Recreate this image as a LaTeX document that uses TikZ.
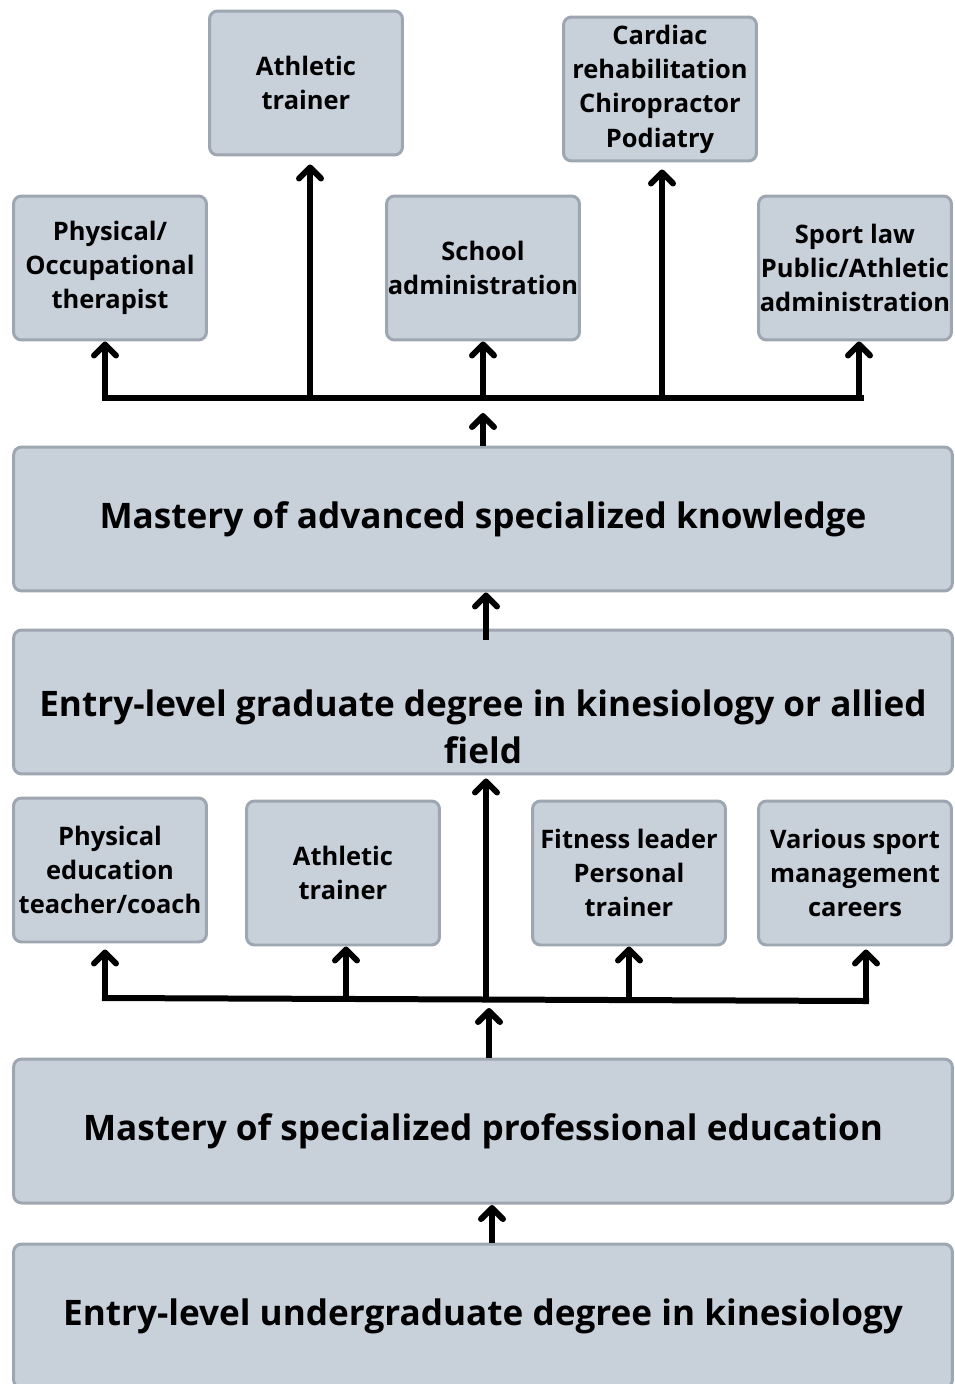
\documentclass[tikz,border=0pt]{standalone}
\usepackage{fontspec}
\setmainfont{Open Sans}
\usetikzlibrary{arrows.meta}
\definecolor{boxfill}{HTML}{C8D0DA}
\definecolor{boxline}{HTML}{9EA7B1}
\tikzset{
  job/.style={draw=boxline, fill=boxfill, line width=0.06cm, rounded corners=0.16cm,
    minimum width=3.86cm, minimum height=2.88cm, align=center,
    font=\fontsize{14.5}{19.5}\selectfont\bfseries, inner sep=0pt},
  stage/.style={draw=boxline, fill=boxfill, line width=0.06cm, rounded corners=0.16cm,
    minimum width=18.78cm, minimum height=2.88cm, align=center,
    font=\fontsize{20}{27}\selectfont\bfseries},
  stagetext/.style={align=center, font=\fontsize{20}{27}\selectfont\bfseries},
  link/.style={line width=0.12cm, -{Straight Barb[length=0.22cm,width=0.44cm,round]}},
  bus/.style={line width=0.12cm, line cap=rect}
}
\begin{document}
\begin{tikzpicture}[x=0.02cm, y=-0.02cm]
  \useasboundingbox (0,0) rectangle (955,1384);
  \clip (0,0) rectangle (955,1384);
  % top row
  \node[job] (at1) at (306,83) {Athletic\\trainer};
  \node[job] (card) at (660,89) {Cardiac\\rehabilitation\\Chiropractor\\Podiatry};
  \node[job] (pot) at (110,268) {Physical/\\Occupational\\therapist};
  \node[job] (school) at (483,268) {School\\administration};
  \node[job] (law) at (855,268) {Sport law\\Public/Athletic\\administration};
  % stages
  \node[stage] (adv) at (483,519) {Mastery of advanced specialized knowledge};
  \node[stage] (grad) at (483,702) {};
  \node[stagetext] (gradtext) at (483,727) {Entry-level graduate degree in kinesiology or allied\\field};
  % middle row
  \node[job] (pe) at (110,870) {Physical\\education\\teacher/coach};
  \node[job] (at2) at (343,873) {Athletic\\trainer};
  \node[job] (fit) at (629,873) {Fitness leader\\Personal\\trainer};
  \node[job] (mgmt) at (855,873) {Various sport\\management\\careers};
  \node[stage] (prof) at (483,1131) {Mastery of specialized professional education};
  \node[stage] (ug) at (483,1316) {Entry-level undergraduate degree in kinesiology};
  % upper bus
  \coordinate (t1) at (105,398);
  \coordinate (t2) at (310,398);
  \coordinate (t3) at (483,398);
  \coordinate (t4) at (662,398);
  \coordinate (t5) at (859,398);
  \coordinate (tin) at (483,413);
  \coordinate (advin) at (486,640);
  \draw[bus] (t1) -- (861,398);
  \draw[link] (t1) -- (t1 |- pot.south);
  \draw[link] (t2) -- ([yshift=-0.16cm]t2 |- at1.south);
  \draw[link] (t3) -- (school.south);
  \draw[link] (t4) -- ([yshift=-0.14cm]t4 |- card.south);
  \draw[link] (t5) -- (t5 |- law.south);
  \draw[link] (adv.north) -- (tin);
  \draw[link] (advin) -- (advin |- adv.south);
  % lower bus
  \coordinate (b1) at (105,998);
  \coordinate (b2) at (346,999);
  \coordinate (b3) at (486,1000);
  \coordinate (b4) at (629,1000);
  \coordinate (b5) at (866,1001);
  \coordinate (bin) at (489,1008);
  \coordinate (profin) at (492,1205);
  \draw[bus] (b1) -- (b5);
  \draw[link] (b1) -- ([yshift=-0.12cm]b1 |- pe.south);
  \draw[link] (b2) -- (b2 |- at2.south);
  \draw[link] (b3) -- ([yshift=-0.06cm]b3 |- grad.south);
  \draw[link] (b4) -- (b4 |- fit.south);
  \draw[link] (b5) -- ([yshift=-0.06cm]b5 |- mgmt.south);
  \draw[link] (bin |- prof.north) -- (bin);
  \draw[link] (profin |- ug.north) -- (profin);
\end{tikzpicture}
\end{document}
